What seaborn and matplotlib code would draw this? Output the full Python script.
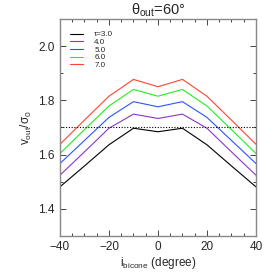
import numpy as np
import pandas as pd
import matplotlib
matplotlib.use("Agg")
import matplotlib.pyplot as plt
import seaborn as sns
from matplotlib.ticker import MultipleLocator

# data
incl = [-40, -30, -20, -10, 0, 10, 20, 30, 40]
taus = ["3.0", "4.0", "5.0", "6.0", "7.0"]
v_tau3 = [1.481, 1.558, 1.636, 1.697, 1.684, 1.697, 1.636, 1.558, 1.481]
v_tau4 = [1.524, 1.610, 1.697, 1.749, 1.733, 1.749, 1.697, 1.610, 1.524]
v_tau5 = [1.567, 1.652, 1.737, 1.795, 1.776, 1.795, 1.737, 1.652, 1.567]
v_tau6 = [1.604, 1.692, 1.779, 1.840, 1.815, 1.840, 1.779, 1.692, 1.604]
v_tau7 = [1.638, 1.727, 1.815, 1.877, 1.850, 1.877, 1.815, 1.727, 1.638]
ref_level = 1.70
colors = ["#000000", "#8c35c8", "#2a55ff", "#22ee22", "#ff4433"]

rows = []
for t, vals in zip(taus, [v_tau3, v_tau4, v_tau5, v_tau6, v_tau7]):
    for x, v in zip(incl, vals):
        rows.append({"i": x, "v": v, "tau": t})
df = pd.DataFrame(rows)

sns.set_style("ticks")
plt.rcParams["font.family"] = ["Liberation Sans", "DejaVu Sans"]
plt.rcParams["mathtext.fontset"] = "custom"
plt.rcParams["mathtext.rm"] = "Liberation Sans"
plt.rcParams["mathtext.it"] = "Liberation Sans"

fig = plt.figure(figsize=(2.74, 2.74), dpi=100)
ax = fig.add_axes([0.219, 0.139, 0.715, 0.792])

sns.lineplot(data=df, x="i", y="v", hue="tau", palette=colors,
             linewidth=0.8, ax=ax, legend=False)
for c, t in zip(colors, taus):
    ax.plot([], [], color=c, lw=0.8, label=("τ=" + t) if t == "3.0" else t)
ax.axhline(ref_level, color="black", ls=(0, (1, 1.5)), lw=0.8)

ax.set_xlim(-40, 40)
ax.set_ylim(1.3, 2.1)
ax.xaxis.set_major_locator(MultipleLocator(20))
ax.xaxis.set_minor_locator(MultipleLocator(5))
ax.yaxis.set_major_locator(MultipleLocator(0.2))
ax.yaxis.set_minor_locator(MultipleLocator(0.1))
ax.xaxis.set_major_formatter(lambda v, p: f"{v:.0f}".replace("-", "\u2212"))
ax.yaxis.set_major_formatter(lambda v, p: f"{v:.1f}")
ax.tick_params(which="both", direction="in", top=True, right=True,
               labelsize=8.5, width=0.6, pad=4)
ax.tick_params(which="major", length=4)
ax.tick_params(which="minor", length=2)
for s in ax.spines.values():
    s.set_linewidth(1.0)
    s.set_color("#888888")

ax.set_xlabel(r"i$_{\rm bicone}$ (degree)", fontsize=8.5, labelpad=1)
ax.set_ylabel(r"v$_{\rm out}$/$\sigma_0$", fontsize=8.5, labelpad=3)
ax.set_title(r"$\theta_{\rm out}$=60°", fontsize=10.5, pad=3)

ax.legend(loc="upper left", frameon=False, fontsize=5.8, handlelength=1.6,
          handletextpad=1.4, labelspacing=0.0, borderaxespad=0.0,
          bbox_to_anchor=(0.035, 0.96))

fig.savefig("out.png", dpi=100)
